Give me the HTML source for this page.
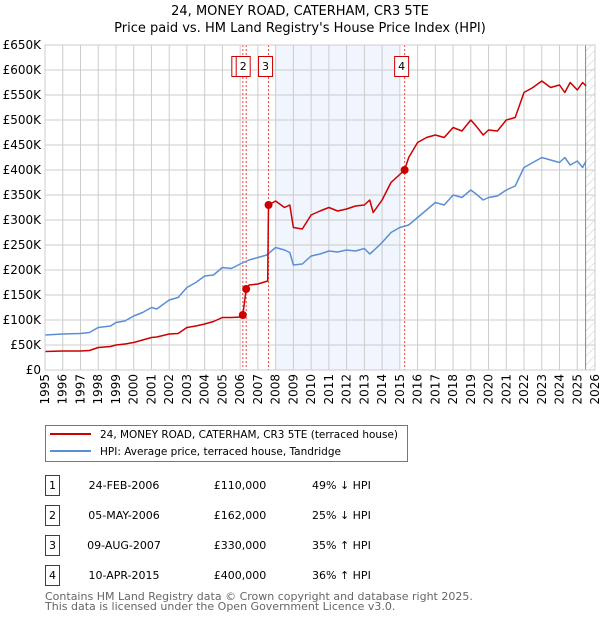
<!DOCTYPE html>
<html><head><meta charset="utf-8"><style>
body{margin:0;background:#fff;font-family:"DejaVu Sans","Liberation Sans",sans-serif;}
#wrap{position:relative;width:600px;height:620px;overflow:hidden}
svg text{font-family:"DejaVu Sans","Liberation Sans",sans-serif}
</style></head><body><div id="wrap">
<svg id="chart" width="600" height="620"></svg>
</div>
<script>
const hpiYears=[1995,1996,1997,1997.5,1998,1998.7,1999,1999.5,2000,2000.5,2001,2001.3,2002,2002.5,2003,2003.5,2004,2004.5,2005,2005.5,2006,2006.5,2007,2007.5,2008,2008.5,2008.8,2009,2009.5,2010,2010.5,2011,2011.5,2012,2012.5,2013,2013.3,2013.5,2014,2014.5,2015,2015.5,2016,2016.5,2017,2017.5,2018,2018.5,2019,2019.3,2019.7,2020,2020.5,2021,2021.5,2022,2022.5,2023,2023.5,2024,2024.3,2024.6,2025,2025.3,2025.5];
const hpiVals=[70,72,73,75,85,88,95,98,108,115,125,122,140,145,165,175,188,190,205,203,212,220,225,230,245,240,235,210,212,228,232,238,236,240,238,243,232,238,255,275,285,290,305,320,335,330,350,345,360,352,340,345,348,360,368,405,415,425,420,415,425,410,418,405,418];
const ppYears=[1995,1996,1997,1997.5,1998,1998.7,1999,1999.5,2000,2000.5,2001,2001.3,2002,2002.5,2003,2003.5,2004,2004.5,2005,2005.5,2006.1,2006.15,2006.34,2006.5,2007,2007.55,2007.6,2008,2008.5,2008.8,2009,2009.5,2010,2010.5,2011,2011.5,2012,2012.5,2013,2013.3,2013.5,2014,2014.5,2015.27,2015.5,2016,2016.5,2017,2017.5,2018,2018.5,2019,2019.3,2019.7,2020,2020.5,2021,2021.5,2022,2022.5,2023,2023.5,2024,2024.3,2024.6,2025,2025.3,2025.5];
const ppVals=[37,38,38,39,45,47,50,52,55,60,65,66,72,73,85,88,92,97,105,105,106,110,162,170,172,178,330,338,325,330,285,282,310,318,325,318,322,328,330,340,315,340,375,400,425,455,465,470,465,485,478,500,488,470,480,478,500,505,555,565,578,565,570,555,575,560,575,568];
const yTicks=[0,50,100,150,200,250,300,350,400,450,500,550,600,650];
const yLabels=["£0","£50K","£100K","£150K","£200K","£250K","£300K","£350K","£400K","£450K","£500K","£550K","£600K","£650K"];
const xYears=[1995,1996,1997,1998,1999,2000,2001,2002,2003,2004,2005,2006,2007,2008,2009,2010,2011,2012,2013,2014,2015,2016,2017,2018,2019,2020,2021,2022,2023,2024,2025,2026];
const saleNums=["1","2","3","4"];
const saleYears=[2006.15,2006.34,2007.6,2015.27];
const salePrices=[110,162,330,400];
const saleDates=["24-FEB-2006","05-MAY-2006","09-AUG-2007","10-APR-2015"];
const salePriceText=["£110,000","£162,000","£330,000","£400,000"];
const saleHpiText=["49% ↓ HPI","25% ↓ HPI","35% ↑ HPI","36% ↑ HPI"];

const L=45,R=595,T=45,B=370;
const X=y=>L+(y-1995)*(R-L)/31;
const Y=v=>B-v*(B-T)/650;
const NS="http://www.w3.org/2000/svg";
const svg=document.getElementById('chart');
function mk(tag,attrs,parent){const e=document.createElementNS(NS,tag);for(const k in attrs)e.setAttribute(k,attrs[k]);(parent||svg).appendChild(e);return e;}

let t=mk('text',{x:300,y:15,'text-anchor':'middle','font-size':13,fill:'#000'});t.textContent="24, MONEY ROAD, CATERHAM, CR3 5TE";


t=mk('text',{x:300,y:32,'text-anchor':'middle','font-size':13,fill:'#000'});t.textContent="Price paid vs. HM Land Registry's House Price Index (HPI)";



let sh=mk('rect',{x:X(2007.96),y:T,width:X(2014.97)-X(2007.96),height:B-T,fill:'#eef2fc',opacity:0.8});


const defs=mk('defs',{});
const pat=mk('pattern',{id:'hatch',width:6,height:6,patternUnits:'userSpaceOnUse',patternTransform:'rotate(45)'},defs);
mk('line',{x1:0,y1:0,x2:0,y2:6,stroke:'#ccc','stroke-width':1},pat);
let hz=mk('rect',{x:X(2025.47),y:T,width:R-X(2025.47),height:B-T,fill:'url(#hatch)'});



yTicks.forEach((v,i)=>{
  mk('line',{x1:L,x2:R,y1:Y(v),y2:Y(v),stroke:'#cccccc','stroke-width':1});
  const tx=mk('text',{x:L-4,y:Y(v)+4,'text-anchor':'end','font-size':12,fill:'#000'});tx.textContent=yLabels[i];
  
  
});
xYears.forEach(y=>{
  mk('line',{x1:X(y),x2:X(y),y1:T,y2:B,stroke:'#cccccc','stroke-width':1});
  const tx=mk('text',{transform:`translate(${X(y)+4},${B+4}) rotate(-90)`,'text-anchor':'end','font-size':12,fill:'#000'});tx.textContent=y;
  
  
});
mk('line',{x1:X(2025.47),x2:X(2025.47),y1:T,y2:B,stroke:'#888','stroke-width':1});

saleYears.forEach((y,i)=>{
  mk('line',{x1:X(y),x2:X(y),y1:T,y2:B,stroke:'#ee4444','stroke-width':1,'stroke-dasharray':'2,2'});
});
[0,1,2,3].forEach(i=>{
  const g=mk('g',{});
  
  
  const cx=X(saleYears[i])-(i===0?4:3);
  mk('rect',{x:cx-7,y:56.5,width:14,height:20,fill:'#fff',stroke:'#cc0000','stroke-width':1},g);
  const tx=mk('text',{x:cx,y:70,'text-anchor':'middle','font-size':11,fill:'#000'},g);tx.textContent=saleNums[i];
});

function line(xs,vs,color,name){
  const d=xs.map((x,i)=>(i?'L':'M')+X(x).toFixed(1)+','+Y(vs[i]).toFixed(1)).join('');
  const p=mk('path',{d:d,fill:'none',stroke:color,'stroke-width':1.5,'stroke-linejoin':'round'});
  
  
}
line(hpiYears,hpiVals,'#5b8fd4','hpi-line');
line(ppYears,ppVals,'#cc0000','price-paid-line');
saleYears.forEach((y,i)=>{
  const c=mk('circle',{cx:X(y),cy:Y(salePrices[i]),r:4,fill:'#cc0000'});
  
  
});
mk('rect',{x:L,y:T,width:R-L,height:B-T,fill:'none',stroke:'#cccccc'});

const lg=mk('g',{});


mk('rect',{x:45.5,y:425.5,width:362,height:36,fill:'#fff',stroke:'#777'},lg);
mk('line',{x1:50,x2:91,y1:434,y2:434,stroke:'#cc0000','stroke-width':2},lg);
mk('line',{x1:50,x2:91,y1:451,y2:451,stroke:'#5b8fd4','stroke-width':2},lg);
t=mk('text',{x:100,y:438,'font-size':10.5,textLength:298,lengthAdjust:'spacingAndGlyphs'},lg);t.textContent="24, MONEY ROAD, CATERHAM, CR3 5TE (terraced house)";


t=mk('text',{x:100,y:455,'font-size':10.5},lg);t.textContent="HPI: Average price, terraced house, Tandridge";



[0,1,2,3].forEach(i=>{
  const y0=475+i*30;
  const g=mk('g',{});
  
  
  mk('rect',{x:45.5,y:y0+0.5,width:14,height:20,fill:'#fff',stroke:'#cc0000'},g);
  let a=mk('text',{x:52.5,y:y0+14,'text-anchor':'middle','font-size':11},g);a.textContent=saleNums[i];
  a=mk('text',{x:124,y:y0+14,'text-anchor':'middle','font-size':11},g);a.textContent=saleDates[i];
  a=mk('text',{x:240,y:y0+14,'text-anchor':'middle','font-size':11},g);a.textContent=salePriceText[i];
  a=mk('text',{x:312,y:y0+14,'font-size':11},g);a.textContent=saleHpiText[i];
});
t=mk('text',{x:45,y:600,'font-size':11,fill:'#666'});t.textContent="Contains HM Land Registry data © Crown copyright and database right 2025.";


t=mk('text',{x:45,y:610,'font-size':11,fill:'#666'});t.textContent="This data is licensed under the Open Government Licence v3.0.";


</script></body></html>
